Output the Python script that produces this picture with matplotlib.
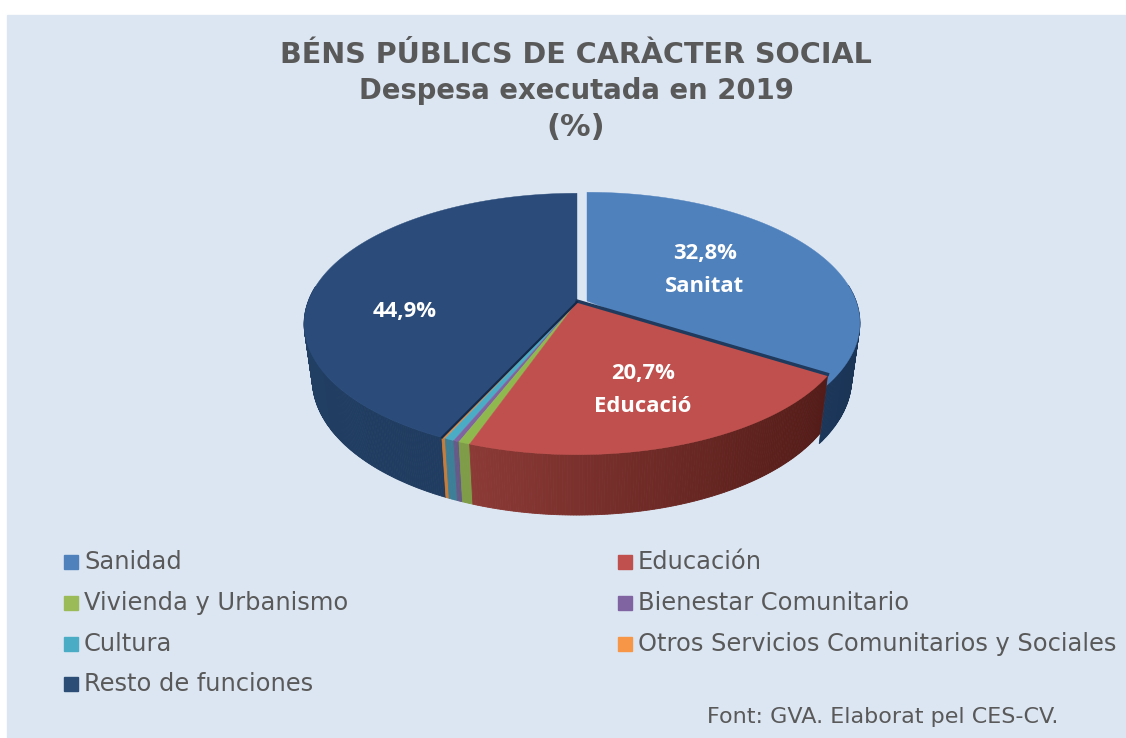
"""Bens publics de caracter social: 3D-look pie drawn on a pixel-sized axes."""

import matplotlib

matplotlib.use("Agg")
import matplotlib.pyplot as plt
import numpy as np
from matplotlib.patches import Rectangle

plt.rcParams["font.family"] = ["DejaVu Sans"]

categories = [
    "Sanidad",
    "Educación",
    "Vivienda y Urbanismo",
    "Bienestar Comunitario",
    "Cultura",
    "Otros Servicios Comunitarios y Sociales",
    "Resto de funciones",
]
values = [32.8, 20.7, 0.6, 0.3, 0.5, 0.2, 44.9]
slice_labels = {0: "Sanitat", 1: "Educació", 6: ""}

TOP_COLORS = ["#4f81bd", "#c0504d", "#8fb84e", "#8064a2", "#4bacc6", "#e08a45", "#2b4c7a"]
LEGEND_COLORS = ["#4f81bd", "#c0504d", "#9bbb59", "#8064a2", "#4bacc6", "#f79646", "#2c4d75"]
# side wall colour, (left end, right end)
SIDE_COLORS = [
    ("#1f3d63", "#1b3557"),
    ("#8c3a36", "#541c18"),
    ("#7f9c48", "#7f9c48"),
    ("#655a88", "#655a88"),
    ("#3d7f96", "#3d7f96"),
    ("#c67c3a", "#c67c3a"),
    ("#213e63", "#1e3a5c"),
]
BG = "#dce6f2"
GRAY = "#595959"

CX, CY = 577, 302
A, B, K = 269, 127, 0.168
EXPLODE = (10, -1)


def warp(theta):
    # the view in the original is turned a bit, boundaries slide towards the front left
    return theta + np.radians(7.2) * np.sin(theta / 2) ** 4


def rim(theta, scale=1.0):
    t = warp(theta)
    u, v = np.sin(t), -np.cos(t)
    s = 1 / (1 - K * v)
    # the wall looks deeper at the front than at the sides
    drop = (54 + 11 * v) if scale < 1 else 0
    return CX + A * u * s * scale, CY + B * v * s * scale + drop


def lerp_color(c1, c2, f):
    a = np.array(matplotlib.colors.to_rgb(c1))
    b = np.array(matplotlib.colors.to_rgb(c2))
    return tuple(a + (b - a) * f)


def draw_slice(ax, start, end, top, side, offset=(0, 0), top_extra=0.0, wall_extra=0.0):
    n = max(int(np.degrees(end - start) * 2), 4)
    th = np.linspace(start, end + wall_extra, n)
    x0, y0 = rim(th)
    x1, y1 = rim(th, 0.97)
    x0, x1 = x0 + offset[0], x1 + offset[0]
    y0, y1 = y0 + offset[1], y1 + offset[1]
    xmin, xmax = x0.min(), x0.max()
    span = max(xmax - xmin, 1)
    for i in range(n - 1):
        # only the front of the wall shows
        if (-np.cos(warp(th[i]))) < -0.12 and (-np.cos(warp(th[i + 1]))) < -0.12:
            continue
        col = lerp_color(side[0], side[1], (x0[i] - xmin) / span)
        ax.fill(
            [x0[i], x0[i + 1], x1[i + 1], x1[i]],
            [y0[i], y0[i + 1], y1[i + 1], y1[i]],
            color=col,
            linewidth=0.6,
            zorder=2,
        )
    th_top = np.linspace(start, end + top_extra, n)
    xt, yt = rim(th_top)
    ax.fill(
        np.r_[CX + offset[0], xt + offset[0]],
        np.r_[CY + offset[1], yt + offset[1]],
        color=top,
        linewidth=0.3,
        zorder=2,
    )


fig = plt.figure(figsize=(11.26, 7.38), dpi=100, facecolor="white")
ax = fig.add_axes([0, 0, 1, 1])
ax.set_xlim(0, 1126)
ax.set_ylim(738, 0)
ax.axis("off")
ax.add_patch(Rectangle((7, 15), 1119, 723, color=BG, zorder=0))

edges = np.radians(np.r_[0, np.cumsum(values)] / sum(values) * 360)

# back to front: rest, sanitat, the thin ones, educacio
for i in [6, 0, 5, 4, 3, 2, 1]:
    if i == 0:
        # sanitat runs on a little so it tucks under educacio and closes the gap
        draw_slice(ax, edges[i], edges[i + 1], TOP_COLORS[i], SIDE_COLORS[i], EXPLODE,
                   top_extra=np.radians(6), wall_extra=np.radians(4.5))
    else:
        draw_slice(ax, edges[i], edges[i + 1], TOP_COLORS[i], SIDE_COLORS[i])

# dark seams where a cut wall peeps out
xe, ye = rim(edges[1])
ax.plot([CX, xe], [CY - 1, ye - 1.5], color="#1f3a5c", linewidth=2.4, zorder=3)
xe, ye = rim(edges[6])
ax.plot([CX, xe], [CY, ye], color="#12294a", linewidth=1.6, zorder=3)

ax.text(576, 55, "BÉNS PÚBLICS DE CARÀCTER SOCIAL", fontsize=20.6, fontweight="bold",
        color=GRAY, ha="center", va="center")
ax.text(576, 91, "Despesa executada en 2019", fontsize=19.8, fontweight="bold",
        color=GRAY, ha="center", va="center")
ax.text(576, 127, "(%)", fontsize=22, fontweight="bold", color=GRAY, ha="center", va="center")

lab = dict(color="white", fontweight="bold", fontsize=15.8, family="Open Sans", ha="center", va="center")
ax.text(705, 253, f"{values[0]:.1f}%".replace(".", ","), **lab)
ax.text(705, 286, slice_labels[0], **lab)
ax.text(643, 374, f"{values[1]:.1f}%".replace(".", ","), **lab)
ax.text(643, 406, slice_labels[1], **lab)
ax.text(405, 311, f"{values[6]:.1f}%".replace(".", ","), **lab)

# legend, two columns filled row by row
for i, name in enumerate(categories):
    x = 64 if i % 2 == 0 else 618
    y = 562 + 40.8 * (i // 2)
    ax.add_patch(Rectangle((x, y - 7), 14, 14, color=LEGEND_COLORS[i], zorder=2))
    ax.text(x + 20, y, name, fontsize=17.35, color=GRAY, ha="left", va="center")

ax.text(707, 717, "Font: GVA. Elaborat pel CES-CV.", fontsize=16, color=GRAY, ha="left", va="center")

fig.savefig("out.png", dpi=100)
plt.close(fig)
